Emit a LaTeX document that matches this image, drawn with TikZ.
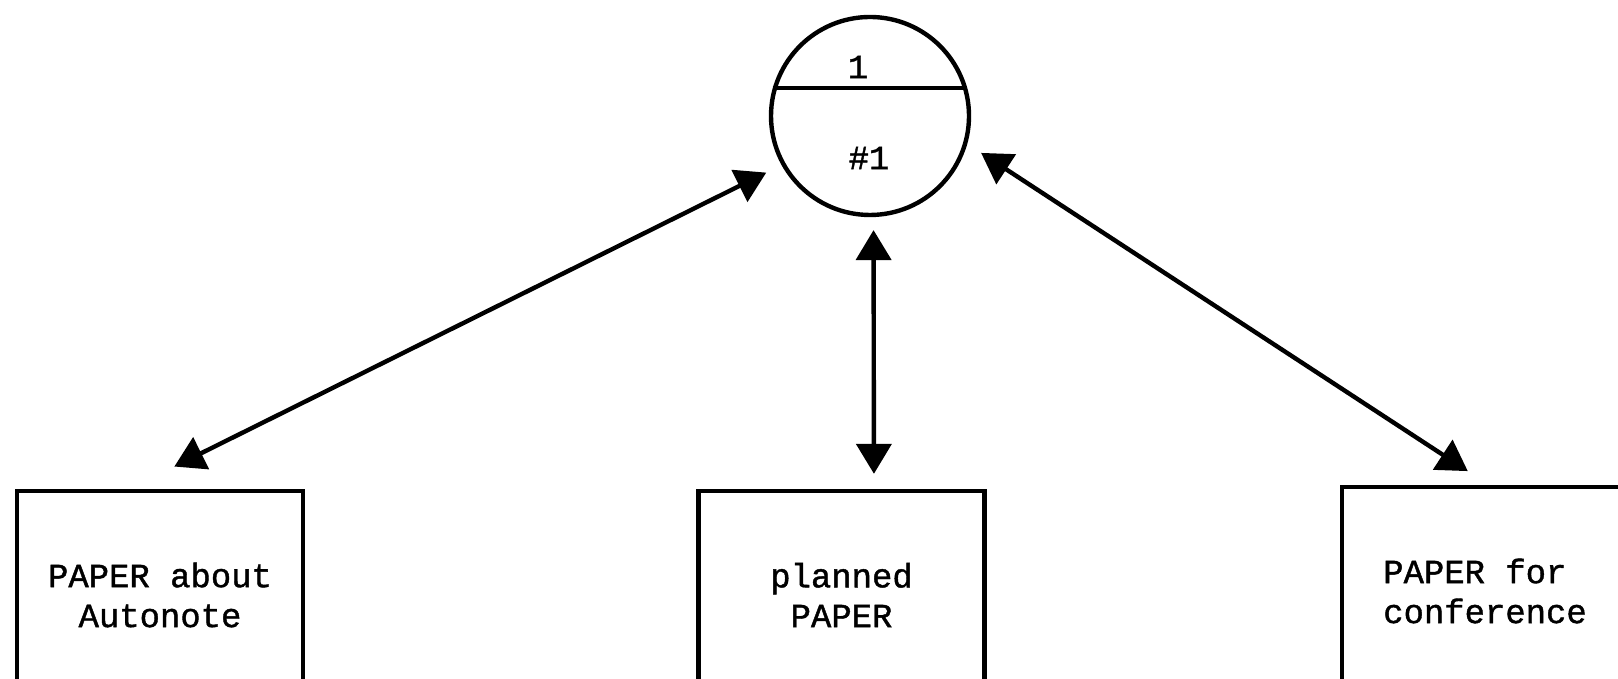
\documentclass[tikz,border=0pt]{standalone}
\usepackage{fontspec}
\setmonofont{Liberation Mono}[FakeBold=1.2]
\usepackage{tikz}
\usetikzlibrary{arrows.meta}

\begin{document}
\begin{tikzpicture}[line width=2.5pt, >={Triangle[length=0.6cm, width=0.7cm]},
    every node/.style = {font=\ttfamily\fontsize{19.3}{22.7}\selectfont, align=center},
    doc/.style = {shape=circle, draw, minimum size=3.96cm, inner sep=0pt},
    paper/.style = {shape=rectangle, draw, minimum width=5.72cm, minimum height=4.16cm}]
    \useasboundingbox (0,0) rectangle (32.36,13.58);
    \clip (0,0) rectangle (32.36,13.58);
    \node[doc] (doc) at (17.40,11.26) {};
    \draw (doc.164) -- (doc.16);
    \node (docnum) at ([shift={(-0.24,0.98)}]doc.center) {1};
    \node (docid) at ([shift={(-0.02,-0.84)}]doc.center) {\#1};
    \node[paper] (about) at (3.20,1.68) {PAPER about\\Autonote};
    \node[paper] (planned) at (16.83,1.68) {planned\\PAPER};
    \node[paper, align=left] (conf) at (29.70,1.76) {PAPER for\\conference};
    \draw[<->, shorten <=0.34cm, shorten >=1.0cm] (doc.209) -- (about.106);
    \draw[<->, shorten <=0.26cm, shorten >=0.3cm] (doc.272) -- (planned.73);
    \draw[<->, shorten <=0.33cm, shorten >=0.5cm] (doc.344) -- (conf.88);
\end{tikzpicture}
\end{document}
